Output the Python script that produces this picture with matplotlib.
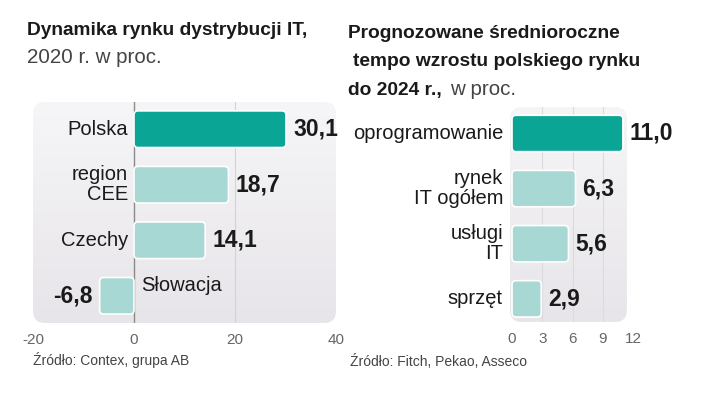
import numpy as np
import matplotlib
matplotlib.use("Agg")
import matplotlib.pyplot as plt
from matplotlib.patches import FancyBboxPatch
from matplotlib.colors import LinearSegmentedColormap

plt.rcParams["font.family"] = ["Liberation Sans", "DejaVu Sans"]
plt.rcParams["axes.unicode_minus"] = False

# left chart data
left_cats = ["Polska", "region\nCEE", "Czechy", "Słowacja"]
left_vals = [30.1, 18.7, 14.1, -6.8]
left_ticks = [-20, 0, 20, 40]

# right chart data
right_cats = ["oprogramowanie", "rynek\nIT ogółem", "usługi\nIT", "sprzęt"]
right_vals = [11.0, 6.3, 5.6, 2.9]
right_ticks = [0, 3, 6, 9, 12]

DARK = "#0ba595"
LIGHT = "#a7d8d3"
W, H = 720, 393

fig = plt.figure(figsize=(W / 100, H / 100), dpi=100)


def px_axes(x0, x1, y0, y1):
    return fig.add_axes([x0 / W, 1 - y1 / H, (x1 - x0) / W, (y1 - y0) / H])


def rounded_bg(ax, frac=1.0, r_px=12):
    bb = ax.get_position()
    w_px, h_px = bb.width * W, bb.height * H
    patch = FancyBboxPatch((0, 0), frac, 1,
                           boxstyle=f"round,pad=0,rounding_size={r_px / w_px}",
                           mutation_aspect=w_px / h_px, transform=ax.transAxes,
                           facecolor="none", edgecolor="none")
    ax.add_patch(patch)
    cmap = LinearSegmentedColormap.from_list("bg", ["#f6f5f7", "#e7e5e9"])
    grad = np.linspace(0, 1, 256).reshape(-1, 1)
    im = ax.imshow(grad, cmap=cmap, extent=[0, frac, 0, 1], transform=ax.transAxes,
                   aspect="auto", origin="upper", zorder=0)
    im.set_clip_path(patch)


def round_bars(ax, bars, r_px=4):
    bb = ax.get_position()
    x0, x1 = ax.get_xlim()
    y0, y1 = ax.get_ylim()
    sx = bb.width * W / abs(x1 - x0)
    sy = bb.height * H / abs(y1 - y0)
    for b in bars:
        x, w = b.get_x(), b.get_width()
        left = min(x, x + w)
        p = FancyBboxPatch((left, b.get_y()), abs(w), b.get_height(),
                           boxstyle=f"round,pad=0,rounding_size={r_px / sx}",
                           mutation_aspect=sx / sy, facecolor=b.get_facecolor(),
                           edgecolor="white", linewidth=1.2, zorder=3)
        ax.add_patch(p)
        b.remove()


def fmt(v):
    return f"{v:.1f}".replace(".", ",")


def style_axis(ax, ticks):
    for s in ax.spines.values():
        s.set_visible(False)
    ax.patch.set_visible(False)
    ax.set_yticks([])
    ax.set_xticks(ticks)
    ax.tick_params(axis="x", length=0, pad=7, labelsize=11, labelcolor="#666666")


# ---------- left panel ----------
axL = px_axes(33, 336, 102, 323)
rounded_bg(axL)
axL.set_xlim(-20, 40)
axL.set_ylim(3.49, -0.49)
axL.axvline(0, color="#8a8a8a", lw=1, zorder=2)
axL.axvline(20, color="#d4d2d6", lw=0.8, zorder=1)
yL = np.arange(len(left_vals))
barsL = axL.barh(yL, left_vals, height=0.66,
                 color=[DARK] + [LIGHT] * (len(left_vals) - 1))
round_bars(axL, barsL)
style_axis(axL, left_ticks)

for i, (c, v) in enumerate(zip(left_cats, left_vals)):
    if v >= 0:
        axL.annotate(c, (0, i), xytext=(-6, 0), textcoords="offset pixels",
                     ha="right", va="center", fontsize=14.5, linespacing=1.05,
                     color="#1a1a1a")
        axL.annotate(fmt(v), (v, i), xytext=(7, 0), textcoords="offset pixels",
                     ha="left", va="center", fontsize=16.5, fontweight="bold",
                     color="#1a1a1a")
    else:
        axL.annotate(c, (0, i), xytext=(7, 10), textcoords="offset pixels",
                     ha="left", va="center", fontsize=14.5, color="#1a1a1a")
        axL.annotate(fmt(v), (v, i), xytext=(-7, 0), textcoords="offset pixels",
                     ha="right", va="center", fontsize=16.5, fontweight="bold",
                     color="#1a1a1a")

# ---------- right panel ----------
axR = px_axes(510, 633, 107, 322)
axR.set_xlim(-0.2, 12)
rounded_bg(axR, frac=(11.4 + 0.2) / 12.2)
axR.set_xlim(-0.2, 12)
axR.set_ylim(3.42, -0.48)
for g in [3, 6, 9]:
    axR.axvline(g, color="#dcdadf", lw=0.8, zorder=1)
yR = np.arange(len(right_vals))
barsR = axR.barh(yR, right_vals, height=0.66,
                 color=[DARK] + [LIGHT] * (len(right_vals) - 1))
round_bars(axR, barsR)
style_axis(axR, right_ticks)

for i, (c, v) in enumerate(zip(right_cats, right_vals)):
    axR.annotate(c, (0, i), xytext=(-9, 0), textcoords="offset pixels",
                 ha="right", va="center", fontsize=14.5, linespacing=1.05,
                 color="#1a1a1a")
    axR.annotate(fmt(v), (v, i), xytext=(7, 0), textcoords="offset pixels",
                 ha="left", va="center", fontsize=16.5, fontweight="bold",
                 color="#1a1a1a")

# ---------- titles & sources ----------
fig.text(27 / W, 1 - 35 / H, "Dynamika rynku dystrybucji IT,", fontsize=13.8,
         fontweight="bold", color="#1a1a1a", va="baseline")
fig.text(27 / W, 1 - 63 / H, "2020 r. w proc.", fontsize=14.8, color="#444444",
         va="baseline")

fig.text(348 / W, 1 - 38 / H, "Prognozowane średnioroczne", fontsize=13.8,
         fontweight="bold", color="#1a1a1a", va="baseline")
fig.text(353 / W, 1 - 66 / H, "tempo wzrostu polskiego rynku", fontsize=13.8,
         fontweight="bold", color="#1a1a1a", va="baseline")
fig.text(348 / W, 1 - 95 / H, "do 2024 r.,", fontsize=13.8,
         fontweight="bold", color="#1a1a1a", va="baseline")
fig.text(450 / W, 1 - 95 / H, "w proc.", fontsize=14.8, color="#444444",
         va="baseline")

fig.text(33 / W, 1 - 360 / H, "Źródło: Contex, grupa AB", fontsize=10,
         color="#444444", va="center")
fig.text(350 / W, 1 - 362 / H, "Źródło: Fitch, Pekao, Asseco", fontsize=10,
         color="#444444", va="center")

fig.savefig("out.png", dpi=100, facecolor="white")
